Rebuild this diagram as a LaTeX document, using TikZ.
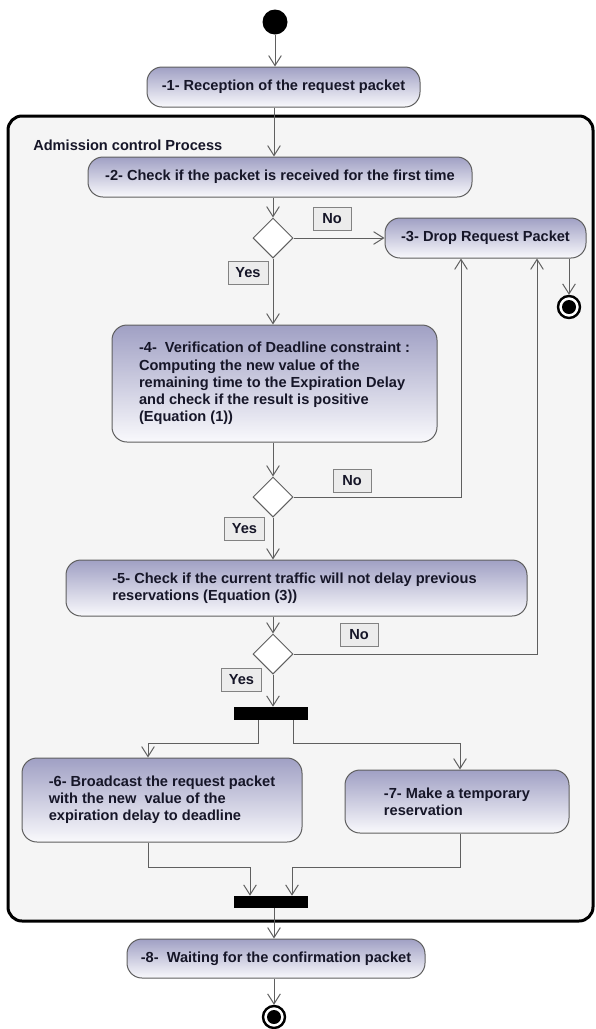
\documentclass[tikz,border=0pt]{standalone}
\usepackage{fontspec}
\setmainfont{Liberation Sans}
\usetikzlibrary{arrows.meta,shapes.geometric}
\newlength\upx
\setlength\upx{0.75pt}
\definecolor{actTop}{RGB}{160,160,196}
\definecolor{actBot}{RGB}{249,249,252}
\definecolor{edgeGray}{RGB}{95,95,95}
\definecolor{txtInk}{RGB}{22,22,40}
\definecolor{panelFill}{RGB}{245,245,245}
\definecolor{guardFill}{RGB}{236,236,236}
\definecolor{guardLine}{RGB}{130,130,130}
\tikzset{
  lbl/.style={font=\fontsize{10.95pt}{12.9pt}\selectfont\bfseries, text=txtInk},
  act/.style={lbl, draw=edgeGray, line width=1\upx, rounded corners=15\upx,
    top color=actTop, bottom color=actBot, inner sep=0pt, align=center},
  actpar/.style={act, align=left},
  decision/.style={diamond, draw=edgeGray, fill=white, line width=1\upx,
    minimum width=40\upx, minimum height=40\upx, inner sep=0pt},
  guardbox/.style={lbl, draw=guardLine, fill=guardFill, line width=1\upx,
    inner sep=0pt, minimum height=23\upx},
  flow/.style={draw=edgeGray, line width=0.75pt,
    -{Straight Barb[length=7.5pt,width=9.5pt,line width=0.75pt]}},
  syncbar/.style={fill=black, draw=none, inner sep=0pt},
  initnode/.style={circle, fill=black, minimum size=25\upx, inner sep=0pt},
  finalnode/.style={circle, draw=black, line width=2.4\upx, fill=white,
    minimum size=22\upx, inner sep=0pt,
    path picture={\fill[black] (path picture bounding box.center) circle (7\upx);}}
}
\begin{document}
\begin{tikzpicture}[x=0.75pt,y=-0.75pt]
\useasboundingbox (0,0) rectangle (596,1029);
\fill[white] (0,0) rectangle (596,1029);

% enclosing process frame
\draw[line width=3\upx, fill=panelFill, rounded corners=14\upx] (8,116) rectangle (593,921);
\node[lbl, anchor=west, inner sep=0pt] (proc) at (33,145) {Admission control Process};

% initial and final states
\node[initnode] (start) at (275,22) {};
\node[finalnode] (f1) at (569,307) {};
\node[finalnode] (f2) at (274,1017) {};

% activities
\node[act, minimum width=273\upx, minimum height=40\upx] (n1) at (283.5,87)
  {-1- Reception of the request packet};
\node[act, minimum width=384\upx, minimum height=40\upx] (n2) at (280,177)
  {-2- Check if the packet is received for the first time};
\node[act, minimum width=201\upx, minimum height=40\upx] (n3) at (485.5,238)
  {-3- Drop Request Packet};
\node[actpar, minimum width=325\upx, minimum height=117\upx] (n4) at (274.5,383.5)
  {-4-\ \ Verification of Deadline constraint :\\
   Computing the new value of the\\
   remaining time to the Expiration Delay\\
   and check if the result is positive\\
   (Equation (1))};
\node[actpar, minimum width=461\upx, minimum height=56\upx] (n5) at (296.5,588)
  {-5- Check if the current traffic will not delay previous\hspace*{4\upx}\\
   reservations (Equation (3))};
\node[actpar, minimum width=280\upx, minimum height=84\upx] (n6) at (162,800)
  {-6- Broadcast the request packet\\
   with the new\ \ value of the\\
   expiration delay to deadline};
\node[actpar, minimum width=224\upx, minimum height=63\upx] (n7) at (457,801.5)
  {-7- Make a temporary\\
   reservation};
\node[act, minimum width=298\upx, minimum height=39\upx] (n8) at (276,958.5)
  {-8-\ \ Waiting for the confirmation packet};

% decisions
\node[decision] (d1) at (273,238) {};
\node[decision] (d2) at (273,497) {};
\node[decision] (d3) at (273,654) {};

% fork and join bars
\node[syncbar, minimum width=74\upx, minimum height=13\upx] (fork) at (271,713.5) {};
\node[syncbar, minimum width=74\upx, minimum height=12\upx] (join) at (271,902) {};

% guards
\node[guardbox, minimum width=38\upx] (no1) at (332,218.5) {No};
\node[guardbox, minimum width=40\upx] (yes1) at (248,272.5) {Yes};
\node[guardbox, minimum width=38\upx] (no2) at (352,481) {No};
\node[guardbox, minimum width=40\upx] (yes2) at (244.5,529) {Yes};
\node[guardbox, minimum width=38\upx] (no3) at (359,635) {No};
\node[guardbox, minimum width=40\upx] (yes3) at (241.5,679.5) {Yes};

% routing points
\coordinate (trunk) at (274,0);
\coordinate (back2) at (461,0);
\coordinate (back3) at (537,0);
\coordinate (forkL) at (258,743);
\coordinate (forkR) at (293,743);
\coordinate (in6) at (148,0);
\coordinate (in7) at (460,0);
\coordinate (out6) at (148,867);
\coordinate (out7) at (460,867);
\coordinate (joinL) at (250,0);
\coordinate (joinR) at (292,0);

% main flow
\draw[flow] (start) -- (start |- n1.north);
\draw[flow] (n1.south -| trunk) -- (n2.north -| trunk);
\draw[flow] (n2.south -| d1) -- (d1.north);
\draw[flow] (d1.east) -- (n3.west);
\draw[flow] (d1.south) -- (n4.north -| d1);
\draw[flow] (n4.south -| d2) -- (d2.north);
\draw[flow] (d2.east) -| (n3.south -| back2);
\draw[flow] (d2.south) -- (n5.north -| d2);
\draw[flow] (n5.south -| d3) -- (d3.north);
\draw[flow] (d3.east) -| (n3.south -| back3);
\draw[flow] (d3.south) -- (fork.north -| d3);
\draw[flow] (n3.south -| f1) -- (f1.north);

% parallel branches
\draw[flow] (fork.south -| forkL) -- (forkL) -| (n6.north -| in6);
\draw[flow] (fork.south -| forkR) -- (forkR) -| (n7.north -| in7);
\draw[flow] (n6.south -| out6) -- (out6) -| (join.north -| joinL);
\draw[flow] (n7.south -| out7) -- (out7) -| (join.north -| joinR);
\draw[flow] (join.south -| trunk) -- (n8.north -| trunk);
\draw[flow] (n8.south -| f2) -- (f2.north);
\end{tikzpicture}
\end{document}
